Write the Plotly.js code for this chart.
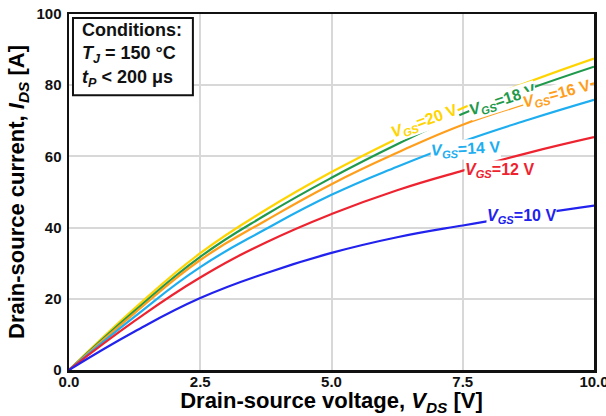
<!DOCTYPE html>
<html>
<head>
<meta charset="utf-8">
<script src="https://cdn.plot.ly/plotly-3.0.1.min.js"></script>
<style>
  html, body { margin: 0; padding: 0; background: #ffffff; }
  #chart { width: 606px; height: 416px; }
</style>
</head>
<body>
<div id="chart"></div>
<script>
// Output characteristics: drain current vs drain-source voltage at Tj = 150 °C
const vds = [0, 1.25, 2.5, 3.75, 5, 6.25, 7.5, 8.75, 10];

const id_vgs20 = [0, 17.3, 32.8, 45.0, 55.6, 65.0, 73.6, 80.9, 87.5];
const id_vgs18 = [0, 16.6, 31.8, 43.6, 54.0, 63.4, 72.0, 78.9, 85.2];
const id_vgs16 = [0, 16.0, 30.9, 42.0, 52.2, 61.0, 68.9, 75.0, 80.5];
const id_vgs14 = [0, 15.0, 28.9, 39.6, 49.2, 57.1, 64.2, 70.3, 75.9];
const id_vgs12 = [0, 13.8, 26.0, 35.8, 43.8, 50.5, 56.0, 61.0, 65.4];
const id_vgs10 = [0, 10.8, 20.2, 27.2, 32.9, 37.3, 40.6, 43.5, 46.2];

const gateVoltages = [20, 18, 16, 14, 12, 10];
const seriesColors = ['#ffd400', '#1f9a4c', '#ff9e1b', '#1eaef0', '#ee2330', '#2222ee'];
const seriesData = [id_vgs20, id_vgs18, id_vgs16, id_vgs14, id_vgs12, id_vgs10];

// in-line curve labels: position along each curve and text tilt
const labelX = [6.78, 8.26, 9.29, 7.56, 8.2, 8.62];
const labelY = [69.7, 75.8, 77.5, 62.0, 56.0, 43.0];
const labelAngle = [-20, -18, -15, -3, 0, 0];

const xTicks = [0, 2.5, 5, 7.5, 10];
const xTickText = ['0.0', '2.5', '5.0', '7.5', '10.0'];
const yTicks = [0, 20, 40, 60, 80, 100];

const conditionsLines = ['Conditions:', '<i>T</i><sub><i>J</i></sub> = 150 °C', '<i>t</i><sub><i>P</i></sub> < 200 μs'];

const traces = seriesData.map((ys, i) => ({
  x: vds,
  y: ys,
  type: 'scatter',
  mode: 'lines',
  line: { color: seriesColors[i], width: 2.2, shape: 'spline', smoothing: 1.3 },
  showlegend: false,
  hoverinfo: 'skip'
}));

const curveLabels = gateVoltages.map((v, i) => ({
  x: labelX[i],
  y: labelY[i],
  xref: 'x',
  yref: 'y',
  text: '<b><i>V</i><sub><i>GS</i></sub>=' + v + ' V</b>',
  showarrow: false,
  textangle: labelAngle[i],
  bgcolor: '#ffffff',
  borderpad: 0,
  font: { family: 'Liberation Sans, Arial, sans-serif', size: 16, color: seriesColors[i] }
}));

const conditionsText = {
  xref: 'paper',
  yref: 'paper',
  x: 0.021,
  y: 0.885,
  xanchor: 'left',
  yanchor: 'middle',
  align: 'left',
  showarrow: false,
  text: '<b>' + conditionsLines.join('<br>') + '</b>',
  font: { family: 'Liberation Sans, Arial, sans-serif', size: 18, color: '#111111' }
};

const conditionsFrame = {
  type: 'rect',
  xref: 'paper',
  yref: 'paper',
  x0: 0.0076, x1: 0.236,
  y0: 0.772, y1: 0.989,
  fillcolor: '#ffffff',
  line: { color: '#111111', width: 2 },
  layer: 'above'
};

const layout = {
  width: 606,
  height: 416,
  margin: { l: 69, r: 12, t: 14, b: 46 },
  paper_bgcolor: '#ffffff',
  plot_bgcolor: '#ffffff',
  font: { family: 'Liberation Sans, Arial, sans-serif', color: '#000000' },
  xaxis: {
    range: [0, 10],
    tickvals: xTicks,
    ticktext: xTickText,
    ticks: '',
    ticklabelstandoff: -4,
    ticklabeloverflow: 'allow',
    tickfont: { size: 15, color: '#111111', weight: 'bold' },
    showgrid: true,
    gridcolor: '#d8d8d8',
    gridwidth: 2,
    zeroline: false,
    showline: true,
    linecolor: '#111111',
    linewidth: 2.5,
    mirror: true,
    title: {
      text: '<b>Drain-source voltage, <i>V</i><sub><i>DS</i></sub> [V]</b>',
      font: { size: 22, color: '#000000' },
      standoff: 12
    }
  },
  yaxis: {
    range: [0, 100],
    tickvals: yTicks,
    ticks: '',
    ticklabelstandoff: 2,
    tickfont: { size: 15, color: '#111111', weight: 'bold' },
    showgrid: true,
    gridcolor: '#d8d8d8',
    gridwidth: 2,
    zeroline: false,
    showline: true,
    linecolor: '#111111',
    linewidth: 2.5,
    mirror: true,
    title: {
      text: '<b>Drain-source current, <i>I</i><sub><i>DS</i></sub> [A]</b>',
      font: { size: 22, color: '#000000' },
      standoff: 6
    }
  },
  shapes: [conditionsFrame],
  annotations: curveLabels.concat([conditionsText])
};

Plotly.newPlot('chart', traces, layout, { staticPlot: true, displayModeBar: false });
</script>
</body>
</html>
